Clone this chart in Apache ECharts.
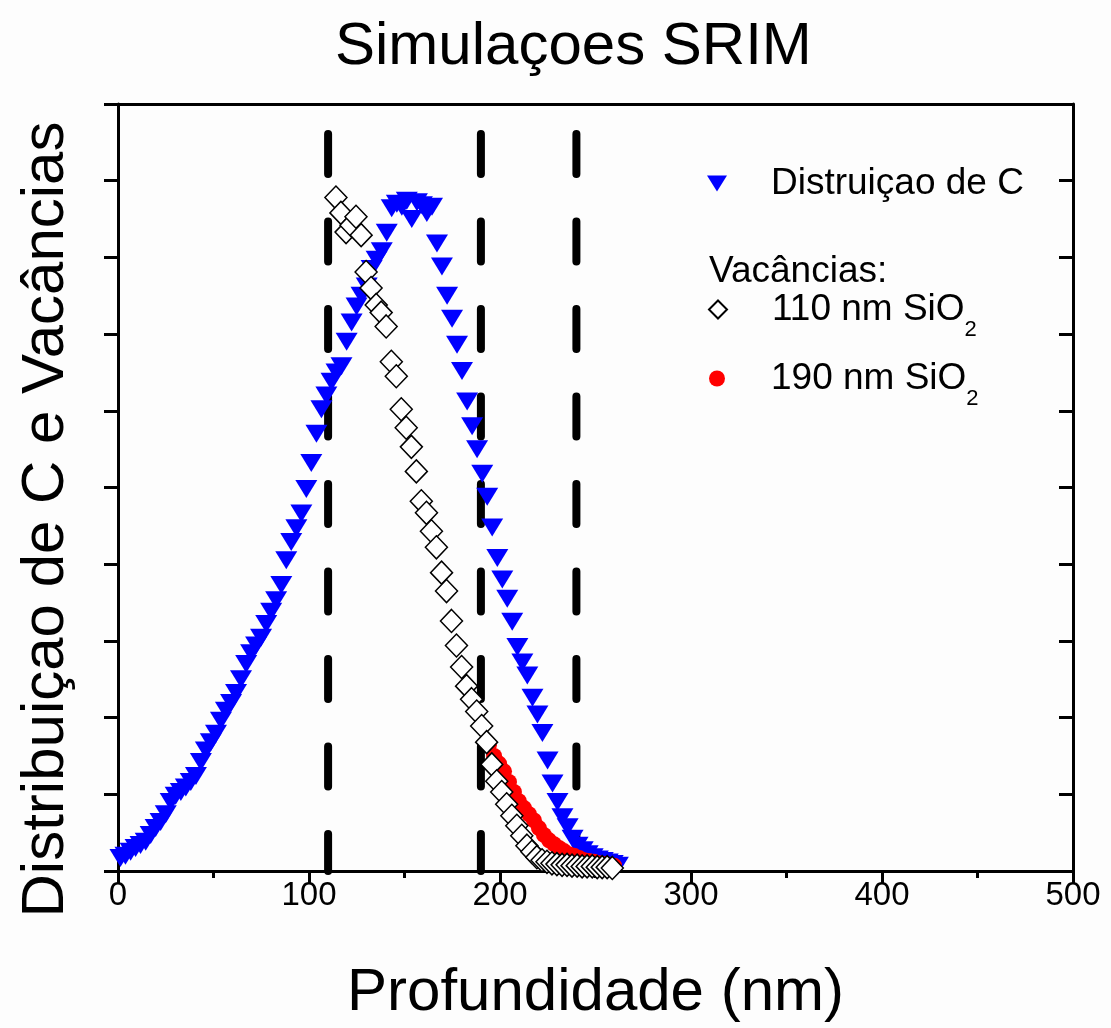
<!DOCTYPE html>
<html>
<head>
<meta charset="utf-8">
<script src="https://cdn.jsdelivr.net/npm/echarts@6/dist/echarts.min.js"></script>
<style>
  html, body { margin: 0; padding: 0; background: #fdfdfd; }
  #main { width: 1111px; height: 1028px; }
</style>
</head>
<body>
<div id="main"></div>
<script>
// Distribuição de C (triangulos azuis)
var carbonDepth = [1.3, 3.9, 6.6, 9.2, 11.8, 14.5, 17.1, 19.7, 22.3, 25.0, 27.6, 30.2, 32.9, 35.5, 38.1, 40.8, 43.4, 46.0, 48.6, 51.3,
  53.9, 56.5, 59.2, 61.8, 64.4, 67.1, 69.7, 72.3, 74.9, 77.6, 80.2, 82.8, 85.5, 88.1, 90.7, 93.4, 96.0, 98.6, 101.2, 103.9,
  106.5, 109.1, 111.8, 114.4, 117.0, 119.7, 122.3, 124.9, 127.5, 130.2, 132.8, 135.4, 138.1, 140.7, 143.3, 146.0, 148.6, 151.2, 153.8, 156.5,
  159.1, 161.7, 164.4, 167.0, 169.6, 172.3, 174.9, 177.5, 180.1, 182.8, 185.4, 188.0, 190.7, 193.3, 195.9, 198.6, 201.2, 203.8, 206.4, 209.1,
  211.7, 214.3, 217.0, 219.6, 222.2, 224.9, 227.5, 230.1, 232.7, 235.4, 238.0, 240.6, 243.3, 245.9, 248.5, 251.2, 253.8, 256.4, 259.0, 261.7];
var carbonValue = [0.17, 0.20, 0.25, 0.30, 0.34, 0.38, 0.47, 0.56, 0.64, 0.74, 0.90, 0.98, 1.03, 1.09, 1.16, 1.24, 1.42, 1.57, 1.68, 1.79,
  1.96, 2.09, 2.19, 2.32, 2.50, 2.70, 2.84, 2.94, 3.04, 3.22, 3.38, 3.53, 3.73, 4.05, 4.29, 4.47, 4.66, 4.98, 5.32, 5.70,
  6.02, 6.20, 6.38, 6.50, 6.58, 6.90, 7.15, 7.36, 7.50, 7.62, 7.85, 7.97, 8.08, 8.32, 8.64, 8.70, 8.66, 8.74, 8.50, 8.72,
  8.68, 8.58, 8.66, 8.18, 7.88, 7.50, 7.20, 6.86, 6.52, 6.12, 5.80, 5.50, 5.18, 4.88, 4.48, 4.08, 3.80, 3.55, 3.25, 2.92,
  2.72, 2.55, 2.26, 2.04, 1.80, 1.44, 1.14, 0.90, 0.70, 0.57, 0.42, 0.33, 0.27, 0.22, 0.18, 0.15, 0.13, 0.11, 0.09, 0.07];

// Vacancias 110 nm SiO2 (losangos abertos)
var vac110Depth = [114.1, 116.7, 119.4, 122.0, 124.6, 127.3, 129.9, 132.5, 135.2, 137.8, 140.4, 143.1, 145.7, 148.3, 150.9, 153.6, 156.2, 158.8, 161.5, 164.1,
  166.7, 169.4, 172.0, 174.6, 177.2, 179.9, 182.5, 185.1, 187.8, 190.4, 193.0, 195.7, 198.3, 200.9, 203.5, 206.2, 208.8, 211.4, 214.1, 216.7,
  219.3, 222.0, 224.6, 227.2, 229.8, 232.5, 235.1, 237.7, 240.4, 243.0, 245.6, 248.3, 250.9, 253.5, 256.1, 258.8];
var vac110Value = [8.78, 8.58, 8.33, 8.42, 8.53, 8.29, 7.81, 7.60, 7.38, 7.28, 7.10, 6.64, 6.45, 6.02, 5.78, 5.53, 5.21, 4.82, 4.67, 4.43,
  4.22, 3.89, 3.65, 3.26, 2.94, 2.66, 2.41, 2.24, 2.08, 1.89, 1.68, 1.39, 1.17, 1.03, 0.87, 0.72, 0.59, 0.46, 0.33, 0.25,
  0.18, 0.14, 0.12, 0.10, 0.09, 0.08, 0.08, 0.07, 0.07, 0.06, 0.06, 0.06, 0.05, 0.05, 0.05, 0.04];

// Vacancias 190 nm SiO2 (circulos vermelhos)
var vac190Depth = [194.2, 196.9, 199.5, 202.1, 204.7, 207.3, 209.9, 212.6, 215.2, 217.8, 220.4, 223.0, 225.7, 228.3, 230.9, 233.5, 236.1, 238.7, 241.4, 244.0,
  246.6, 249.2, 251.8, 254.5, 257.1, 259.7];
var vac190Value = [1.64, 1.50, 1.40, 1.30, 1.16, 1.03, 0.91, 0.82, 0.74, 0.66, 0.56, 0.47, 0.40, 0.35, 0.30, 0.26, 0.22, 0.20, 0.17, 0.14,
  0.13, 0.12, 0.10, 0.09, 0.08, 0.07];

// linhas tracejadas verticais (nm)
var interfaceDepths = [110, 190, 240];

var xTicks = [0, 100, 200, 300, 400, 500];

function pairs(xs, ys) {
  return xs.map(function (x, i) { return [x, ys[i]]; });
}

var FONT = 'Liberation Sans, Arial, sans-serif';
var chart = echarts.init(document.getElementById('main'));

var dashSeries = interfaceDepths.map(function (d) {
  return {
    type: 'line',
    xAxisIndex: 0, yAxisIndex: 0,
    data: [[d, 10], [d, 0]],
    symbol: 'none',
    silent: true,
    z: 1,
    lineStyle: { color: '#000', width: 8, type: [40, 47.5], dashOffset: 57.5, cap: 'round' }
  };
});

var legendRich = { sub: { fontSize: 22, fontFamily: FONT, color: '#000', padding: [40, 0, 0, 0] } };
function legendFmt(name) { return name.replace('SiO2', 'SiO{sub|2}'); }

chart.setOption({
  animation: false,
  backgroundColor: '#fdfdfd',
  title: {
    text: 'Simulaçoes SRIM',
    left: 330,
    top: 12,
    textStyle: { fontSize: 60, fontWeight: 'normal', color: '#000', fontFamily: FONT }
  },
  grid: { left: 118, right: 38, top: 104, bottom: 156 },
  xAxis: [{
    type: 'value', min: 0, max: 500, interval: 100,
    name: 'Profundidade (nm)', nameLocation: 'middle', nameGap: 92,
    nameTextStyle: { fontSize: 60, color: '#000', fontFamily: FONT },
    axisLine: { onZero: false, lineStyle: { color: '#000', width: 3 } },
    axisTick: { show: true, inside: false, length: 12, lineStyle: { color: '#000', width: 3 } },
    minorTick: { show: true, splitNumber: 2, length: 7, lineStyle: { color: '#000', width: 3 } },
    axisLabel: { fontSize: 33, color: '#000', fontFamily: FONT, margin: 8,
      formatter: function (v) { return xTicks.indexOf(v) >= 0 ? String(v) : ''; } },
    splitLine: { show: false }
  }, {
    type: 'value', position: 'top', min: 0, max: 500, interval: 100,
    axisLine: { onZero: false, lineStyle: { color: '#000', width: 3 } },
    axisTick: { show: false }, axisLabel: { show: false }, splitLine: { show: false }
  }],
  yAxis: [{
    type: 'value', min: 0, max: 10, interval: 1,
    name: 'Distribuiçao de C e Vacâncias', nameLocation: 'middle', nameGap: 42,
    nameTextStyle: { fontSize: 60, color: '#000', fontFamily: FONT, padding: [0, 64, 0, 0] },
    axisLine: { onZero: false, lineStyle: { color: '#000', width: 3 } },
    axisTick: { show: true, inside: false, length: 14, lineStyle: { color: '#000', width: 3 } },
    axisLabel: { show: false },
    splitLine: { show: false }
  }, {
    type: 'value', position: 'right', min: 0, max: 10, interval: 1,
    axisLine: { onZero: false, lineStyle: { color: '#000', width: 3 } },
    axisTick: { show: true, inside: true, length: 14, lineStyle: { color: '#000', width: 3 } },
    axisLabel: { show: false }, splitLine: { show: false }
  }],
  legend: [{
    data: ['Distruiçao de C'], left: 707, top: 165, padding: 0,
    itemWidth: 20, itemHeight: 16, icon: 'path://M0,0 L20,0 L10,16 Z',
    textStyle: { fontSize: 37, color: '#000', fontFamily: FONT, padding: [0, 0, 0, 39] }
  }, {
    data: ['110 nm SiO2'], left: 708, top: 291, padding: 0,
    itemWidth: 18, itemHeight: 18, formatter: legendFmt,
    textStyle: { fontSize: 37, color: '#000', fontFamily: FONT, padding: [0, 0, 0, 40], rich: legendRich }
  }, {
    data: ['190 nm SiO2'], left: 709, top: 360, padding: 0,
    itemWidth: 16, itemHeight: 16, formatter: legendFmt,
    textStyle: { fontSize: 37, color: '#000', fontFamily: FONT, padding: [0, 0, 0, 41], rich: legendRich }
  }],
  graphic: [{
    type: 'text', left: 709, top: 253,
    style: { text: 'Vacâncias:', fontSize: 37, fill: '#000', fontFamily: FONT }
  }],
  series: dashSeries.concat([{
    name: 'Distruiçao de C',
    type: 'scatter',
    data: pairs(carbonDepth, carbonValue),
    symbol: 'triangle', symbolRotate: 180, symbolSize: [22, 18],
    itemStyle: { color: '#0000ff', opacity: 1 },
    z: 2
  }, {
    name: '190 nm SiO2',
    type: 'scatter',
    data: pairs(vac190Depth, vac190Value),
    symbol: 'circle', symbolSize: 16,
    itemStyle: { color: '#ff0000', opacity: 1 },
    z: 3
  }, {
    name: '110 nm SiO2',
    type: 'scatter',
    data: pairs(vac110Depth, vac110Value),
    symbol: 'diamond', symbolSize: [22, 23],
    itemStyle: { color: '#ffffff', borderColor: '#000', borderWidth: 1.5, opacity: 1 },
    z: 4
  }])
});
</script>
</body>
</html>
